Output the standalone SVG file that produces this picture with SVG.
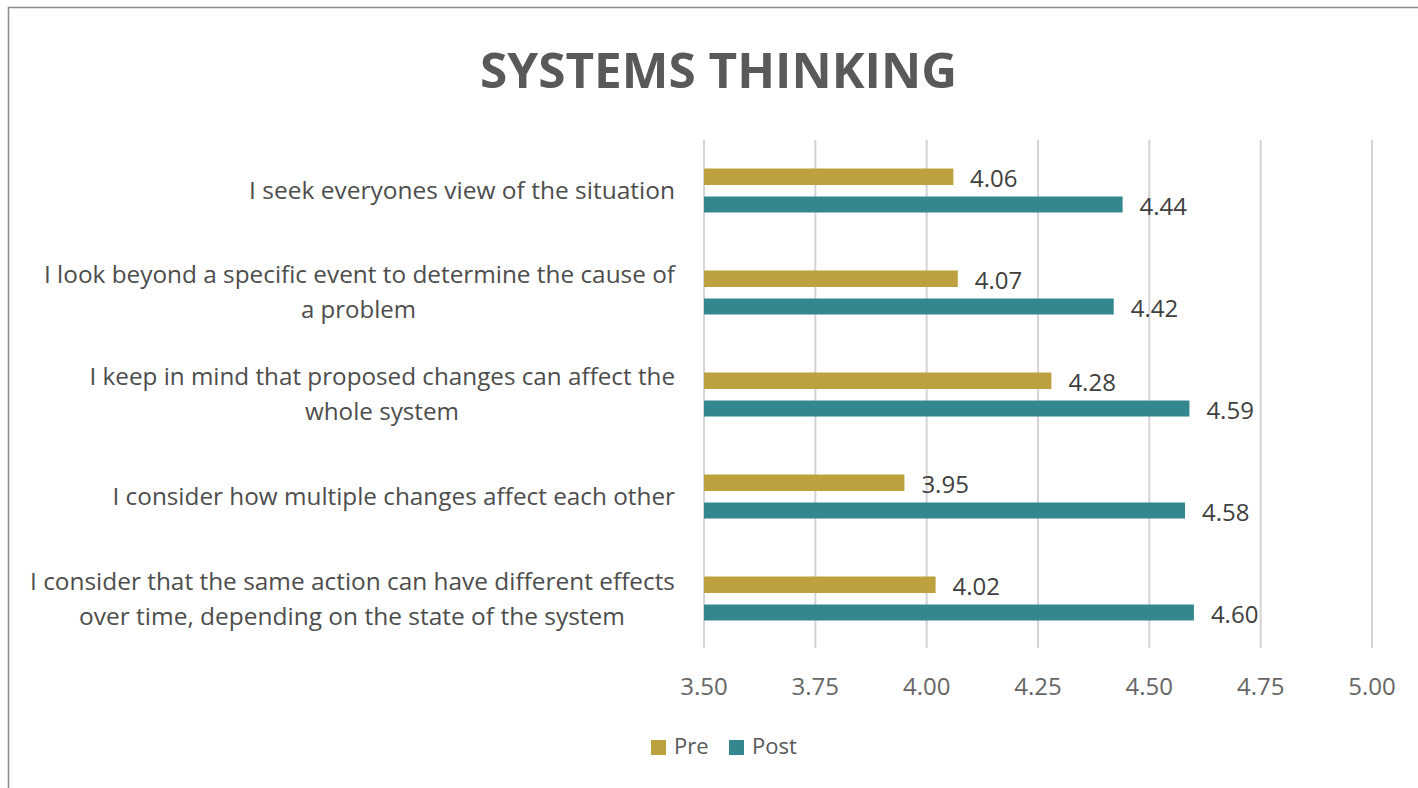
<svg xmlns="http://www.w3.org/2000/svg" width="1418" height="788" viewBox="0 0 1418 788">
  <style>
    .title { font-family: "Open Sans", "Liberation Sans", sans-serif; font-weight: 700; font-size: 49px; fill: #595959; }
    .cat { font-family: "Open Sans", "Liberation Sans", sans-serif; font-size: 24px; fill: #4d4d4d; }
    .val { font-family: "Open Sans", "Liberation Sans", sans-serif; font-size: 24px; fill: #404040; }
    .tick { font-family: "Open Sans", "Liberation Sans", sans-serif; font-size: 24px; fill: #666666; text-anchor: middle; }
    .leg { font-family: "Open Sans", "Liberation Sans", sans-serif; font-size: 22px; fill: #595959; }
    .grid { stroke: #d4d4d4; stroke-width: 2; }
    .pre { fill: #BDA13E; }
    .post { fill: #34878F; }
  </style>
  <rect x="0" y="0" width="1418" height="788" fill="#ffffff"/>
  <rect id="frame" x="8.5" y="7.5" width="1420" height="800" fill="#ffffff" stroke="#8c8c8c" stroke-width="1.5"/>

  <text id="title" class="title" x="480" y="88" textLength="477" lengthAdjust="spacingAndGlyphs">SYSTEMS THINKING</text>

  <g id="gridlines">
    <line class="grid" x1="704" y1="140" x2="704" y2="648"/>
    <line class="grid" x1="815.33" y1="140" x2="815.33" y2="648"/>
    <line class="grid" x1="926.67" y1="140" x2="926.67" y2="648"/>
    <line class="grid" x1="1038" y1="140" x2="1038" y2="648"/>
    <line class="grid" x1="1149.33" y1="140" x2="1149.33" y2="648"/>
    <line class="grid" x1="1260.67" y1="140" x2="1260.67" y2="648"/>
    <line class="grid" x1="1372" y1="140" x2="1372" y2="648"/>
  </g>

  <g id="axis-labels">
    <text class="tick" x="704" y="695">3.50</text>
    <text class="tick" x="815.33" y="695">3.75</text>
    <text class="tick" x="926.67" y="695">4.00</text>
    <text class="tick" x="1038" y="695">4.25</text>
    <text class="tick" x="1149.33" y="695">4.50</text>
    <text class="tick" x="1260.67" y="695">4.75</text>
    <text class="tick" x="1372" y="695">5.00</text>
  </g>

  <g id="cat1">
    <text class="cat" x="249" y="199" textLength="426" lengthAdjust="spacingAndGlyphs">I seek everyones view of the situation</text>
    <rect class="pre" x="704" y="168.5" width="249.4" height="16.5"/>
    <rect class="post" x="704" y="196.5" width="418.6" height="16"/>
    <text class="val" x="970" y="186.8">4.06</text>
    <text class="val" x="1139.6" y="214.5">4.44</text>
  </g>

  <g id="cat2">
    <text class="cat" x="44" y="283" textLength="631" lengthAdjust="spacingAndGlyphs">I look beyond a specific event to determine the cause of</text>
    <text class="cat" x="301" y="318" textLength="115" lengthAdjust="spacingAndGlyphs">a problem</text>
    <rect class="pre" x="704" y="270.5" width="253.8" height="16.5"/>
    <rect class="post" x="704" y="298.5" width="409.7" height="16"/>
    <text class="val" x="974.8" y="288.8">4.07</text>
    <text class="val" x="1130.7" y="316.5">4.42</text>
  </g>

  <g id="cat3">
    <text class="cat" x="89.5" y="385" textLength="585.5" lengthAdjust="spacingAndGlyphs">I keep in mind that proposed changes can affect the</text>
    <text class="cat" x="305" y="420" textLength="154" lengthAdjust="spacingAndGlyphs">whole system</text>
    <rect class="pre" x="704" y="372.5" width="347.4" height="16.5"/>
    <rect class="post" x="704" y="400.5" width="485.4" height="16"/>
    <text class="val" x="1068.4" y="390.8">4.28</text>
    <text class="val" x="1206.4" y="418.5">4.59</text>
  </g>

  <g id="cat4">
    <text class="cat" x="112.5" y="505" textLength="562.5" lengthAdjust="spacingAndGlyphs">I consider how multiple changes affect each other</text>
    <rect class="pre" x="704" y="474.5" width="200.4" height="16.5"/>
    <rect class="post" x="704" y="502.5" width="481" height="16"/>
    <text class="val" x="921.4" y="492.8">3.95</text>
    <text class="val" x="1202" y="520.5">4.58</text>
  </g>

  <g id="cat5">
    <text class="cat" x="30" y="590" textLength="645" lengthAdjust="spacingAndGlyphs">I consider that the same action can have different effects</text>
    <text class="cat" x="79" y="625" textLength="546" lengthAdjust="spacingAndGlyphs">over time, depending on the state of the system</text>
    <rect class="pre" x="704" y="576.5" width="231.6" height="16.5"/>
    <rect class="post" x="704" y="604.5" width="489.9" height="16"/>
    <text class="val" x="952.6" y="594.8">4.02</text>
    <text class="val" x="1210.9" y="622.5">4.60</text>
  </g>

  <g id="legend">
    <rect class="pre" x="651" y="740" width="15" height="15"/>
    <text class="leg" x="674" y="754">Pre</text>
    <rect class="post" x="729" y="740" width="15" height="15"/>
    <text class="leg" x="752" y="754">Post</text>
  </g>

  <g id="connectors"></g>
</svg>
